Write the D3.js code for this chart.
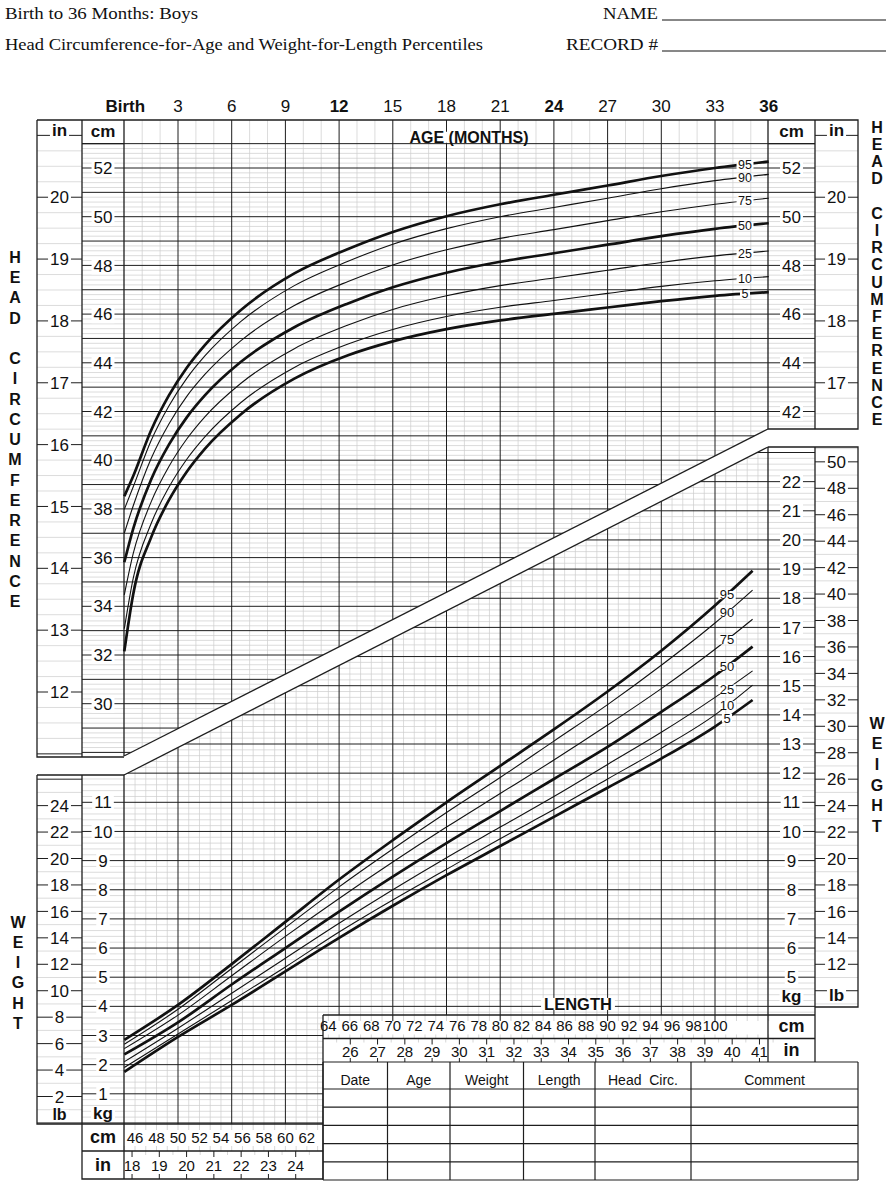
<!DOCTYPE html>
<html><head><meta charset="utf-8">
<script src="https://cdn.jsdelivr.net/npm/d3@7/dist/d3.min.js"></script>
<style>
html,body{margin:0;padding:0;background:#fff;}
svg{display:block;}
text{fill:#111;}
</style></head>
<body><svg id="chart" width="896" height="1186" font-family="'Liberation Sans',Arial,Helvetica,sans-serif"></svg>
<script>
// ---------------- DATA ----------------
const percentiles = [5,10,25,50,75,90,95];
const thickPct = [5,50,95];

// Head circumference-for-age (cm)
const hcAgeMonths = [0,0.5,1.5,2.5,3.5,4.5,6.5,9.5,12.5,15,18,21,24,27,30,33,36];
const hcP5  = [32.15,34.51,36.83,38.37,39.54,40.47,41.88,43.35,44.31,44.88,45.38,45.74,46.01,46.27,46.53,46.75,46.90];
const hcP10 = [33.08,35.16,37.40,38.90,40.05,40.96,42.36,43.81,44.77,45.37,45.90,46.28,46.56,46.85,47.14,47.37,47.54];
const hcP25 = [34.47,36.17,38.29,39.75,40.88,41.78,43.15,44.58,45.55,46.19,46.75,47.17,47.48,47.80,48.12,48.39,48.59];
const hcP50 = [35.81,37.19,39.21,40.65,41.77,42.66,44.03,45.46,46.44,47.10,47.70,48.15,48.50,48.85,49.20,49.50,49.73];
const hcP75 = [37.00,38.13,40.07,41.50,42.63,43.52,44.90,46.35,47.34,48.02,48.64,49.11,49.47,49.84,50.20,50.51,50.76];
const hcP90 = [37.98,38.91,40.81,42.24,43.37,44.28,45.69,47.17,48.17,48.87,49.51,50.00,50.38,50.76,51.15,51.48,51.74];
const hcP95 = [38.52,39.35,41.23,42.67,43.81,44.73,46.16,47.67,48.67,49.37,50.02,50.51,50.90,51.28,51.67,52.00,52.26];

// Weight-for-length (kg)
const wflLengthCm = [45,50,55,60,65,70,75,80,85,90,95,100,103.5];
const wflP5  = [1.75,2.95,4.05,5.20,6.35,7.45,8.50,9.50,10.50,11.50,12.50,13.60,14.51];
const wflP10 = [1.90,3.05,4.20,5.35,6.55,7.65,8.70,9.75,10.75,11.80,12.85,14.00,15.02];
const wflP25 = [2.10,3.25,4.45,5.65,6.85,8.00,9.10,10.15,11.20,12.30,13.40,14.60,15.51];
const wflP50 = [2.35,3.45,4.75,6.00,7.25,8.45,9.60,10.70,11.80,12.90,14.10,15.35,16.34];
const wflP75 = [2.55,3.70,5.05,6.40,7.70,8.95,10.15,11.30,12.45,13.65,14.90,16.25,17.28];
const wflP90 = [2.70,3.90,5.30,6.70,8.10,9.40,10.65,11.85,13.10,14.35,15.70,17.15,18.28];
const wflP95 = [2.85,4.05,5.45,6.90,8.35,9.70,11.00,12.25,13.50,14.80,16.20,17.75,18.94];

// Tick labels
const ageTickMonths = [0,3,6,9,12,15,18,21,24,27,30,33,36];
const ageTickLabels = ["Birth","3","6","9","12","15","18","21","24","27","30","33","36"];
const ageBoldLabels = ["Birth","12","24","36"];
const headCmLeft  = [52,50,48,46,44,42,40,38,36,34,32,30];
const headCmRight = [52,50,48,46,44,42];
const headInLeft  = [20,19,18,17,16,15,14,13,12];
const headInRight = [20,19,18,17];
const wtKgLeft  = [11,10,9,8,7,6,5,4,3,2,1];
const wtKgRight = [22,21,20,19,18,17,16,15,14,13,12,11,10,9,8,7,6,5];
const wtLbLeft  = [24,22,20,18,16,14,12,10,8,6,4,2];
const wtLbRight = [50,48,46,44,42,40,38,36,34,32,30,28,26,24,22,20,18,16,14,12];
const lenCmBottom = [46,48,50,52,54,56,58,60,62];
const lenInBottom = [18,19,20,21,22,23,24];
const lenCmTop = [64,66,68,70,72,74,76,78,80,82,84,86,88,90,92,94,96,98,100];
const lenInTop = [26,27,28,29,30,31,32,33,34,35,36,37,38,39,40,41];
const tableHeaders = ["Date","Age","Weight","Length","Head  Circ.","Comment"];
const sideHead = "HEAD CIRCUMFERENCE";
const sideWeight = "WEIGHT";

// ---------------- LAYOUT ----------------
const svg = d3.select('#chart');
const xAge = d3.scaleLinear().domain([0,36]).range([124.3,768.7]);
const xLen = d3.scaleLinear().domain([45,105]).range([124.3,768.7]);
const yHC  = d3.scaleLinear().domain([52,30]).range([168,703.7]);
const yWt  = d3.scaleLinear().domain([11,1]).range([802.3,1093.8]);
const IN = 2.54, LB = 0.45359237;

const C = {inL:37, cmL:82, pL:124, pR:768, cmR:815, inR:858,
  top:120, hdr:143.65, headBotL:757, headBotR:429,
  wTopL:775, wTopR:447, lbBotR:1007, lenTop:1015, lenMid:1038.5, tabTop:1062, tabL:323,
  wBotL:1124, lenMidB:1151, botB:1179, tabB:1180};
const band = {topL:756, topR:429, botL:775, botR:447};
const tableCols = [323,387.5,450,523.5,595,691,858];
const tableRows = [1062,1089,1107.2,1125.4,1143.6,1161.8,1180];

const DARK = '#1e1e1e', LIGHT = '#cdcdcd';

const defs = svg.append('defs');
defs.append('clipPath').attr('id','clipHead').append('path')
  .attr('d',`M${C.pL},${C.top}H${C.pR}V${band.topR}L${C.pL},${band.topL}Z`);
defs.append('clipPath').attr('id','clipWt').append('path')
  .attr('d',`M${C.pL},${band.botL}L${C.pR},${band.botR}V${C.lenTop}H${C.tabL}V${C.wBotL}H${C.pL}Z`);

function hline(g,x1,x2,y,color,w){ g.append('line').attr('x1',x1).attr('x2',x2).attr('y1',y).attr('y2',y).attr('stroke',color).attr('stroke-width',w); }
function vline(g,x,y1,y2,color,w){ g.append('line').attr('x1',x).attr('x2',x).attr('y1',y1).attr('y2',y2).attr('stroke',color).attr('stroke-width',w); }
function ko(g,x,y,txt,o={}){
  const size=o.size||17, weight=o.weight||'normal', anchor=o.anchor||'middle';
  const pad=o.pad==null?2:o.pad, padY=o.padY==null?1:o.padY;
  const t=g.append('text').attr('x',x).attr('y',y).attr('text-anchor',anchor).attr('dy','0.36em')
    .attr('font-size',size).attr('font-weight',weight).text(txt);
  if(o.ko!==false){
    const b=t.node().getBBox();
    g.insert('rect',()=>t.node()).attr('x',b.x-pad).attr('y',b.y+padY)
      .attr('width',b.width+2*pad).attr('height',b.height-2*padY).attr('fill','#fff');
  }
  return t;
}

// ---------------- GRID: head ----------------
const gHead = svg.append('g').attr('clip-path','url(#clipHead)');
d3.range(138,266).forEach(i=>{ if(i%5) hline(gHead,C.pL,C.pR,yHC(i/5),LIGHT,0.7); });
d3.range(1,36).forEach(m=>{ if(m%3) vline(gHead,xAge(m),C.top,800,LIGHT,0.7); });
d3.range(28,54).forEach(v=>hline(gHead,C.pL,C.pR,yHC(v),DARK,1));
d3.range(3,36,3).forEach(m=>vline(gHead,xAge(m),C.top,800,DARK,1));

// ---------------- GRID: weight ----------------
const gWt = svg.append('g').attr('clip-path','url(#clipWt)');
d3.range(0,120).forEach(i=>{ if(i%5) hline(gWt,C.pL,C.pR,yWt(i/5),LIGHT,0.7); });
d3.range(46,105).forEach(l=>{ if(l%5) vline(gWt,xLen(l),400,1130,LIGHT,0.7); });
d3.range(0,24).forEach(k=>hline(gWt,C.pL,C.pR,yWt(k),DARK,1));
d3.range(50,105,5).forEach(l=>vline(gWt,xLen(l),400,1130,DARK,1));

// ---------------- COLUMNS ----------------
function column(x1,x2,y1,y2,lightYs,darkYs){
  const g=svg.append('g');
  lightYs.filter(y=>y>y1+0.8&&y<y2-0.8).forEach(y=>hline(g,x1,x2,y,LIGHT,0.7));
  darkYs.filter(y=>y>y1-0.1&&y<y2+0.1).forEach(y=>hline(g,x1,x2,y,DARK,1));
  return g;
}
const hcLight = d3.range(138,266).filter(i=>i%5).map(i=>yHC(i/5));
const hcDark = d3.range(28,54).map(v=>yHC(v));
let g;
g = column(C.cmL,C.pL,C.hdr,C.headBotL,hcLight,hcDark);
headCmLeft.forEach(v=>ko(g,(C.cmL+C.pL)/2,yHC(v),String(v)));
g = column(C.pR,C.cmR,C.hdr,C.headBotR,hcLight,hcDark);
headCmRight.forEach(v=>ko(g,(C.pR+C.cmR)/2,yHC(v),String(v)));
const hiLight = d3.range(44,88).filter(i=>i%4).map(i=>yHC(i/4*IN));
const hiDark = d3.range(11,22).map(v=>yHC(v*IN));
g = column(C.inL,C.cmL,C.top,C.headBotL,hiLight,hiDark);
headInLeft.forEach(v=>ko(g,(C.inL+C.cmL)/2,yHC(v*IN),String(v)));
ko(g,(C.inL+C.cmL)/2,130,'in',{weight:'bold',size:17,padY:3});
g = column(C.cmR,C.inR,C.top,C.headBotR,hiLight,hiDark);
headInRight.forEach(v=>ko(g,(C.cmR+C.inR)/2,yHC(v*IN),String(v)));
ko(g,(C.cmR+C.inR)/2,130,'in',{weight:'bold',size:17,padY:3});
ko(svg,(C.cmL+C.pL)/2,131,'cm',{weight:'bold',size:17,ko:false});
ko(svg,(C.pR+C.cmR)/2,131,'cm',{weight:'bold',size:17,ko:false});

const wkLight = d3.range(0,120).filter(i=>i%5).map(i=>yWt(i/5));
const wkDark = d3.range(0,24).map(k=>yWt(k));
g = column(C.cmL,C.pL,C.wTopL,C.wBotL,wkLight,wkDark);
wtKgLeft.forEach(v=>ko(g,(C.cmL+C.pL)/2,yWt(v),String(v)));
ko(g,(C.cmL+C.pL)/2,1113,'kg',{weight:'bold',size:17,padY:3});
g = column(C.pR,C.cmR,C.wTopR,C.lenTop,wkLight,wkDark);
wtKgRight.forEach(v=>ko(g,(C.pR+C.cmR)/2,yWt(v),String(v)));
ko(g,(C.pR+C.cmR)/2,996,'kg',{weight:'bold',size:17,padY:3});
const wlLight = d3.range(0,53).filter(i=>i%2).map(i=>yWt(i*LB));
const wlDark = d3.range(0,53,2).map(i=>yWt(i*LB));
g = column(C.inL,C.cmL,C.wTopL,C.wBotL,wlLight,wlDark);
wtLbLeft.forEach(v=>ko(g,(C.inL+C.cmL)/2,yWt(v*LB),String(v),{padY:3}));
ko(g,(C.inL+C.cmL)/2,1114,'lb',{weight:'bold',size:16,padY:4});
g = column(C.cmR,C.inR,C.wTopR,C.lbBotR,wlLight,wlDark);
wtLbRight.forEach(v=>ko(g,(C.cmR+C.inR)/2,yWt(v*LB),String(v)));
ko(g,(C.cmR+C.inR)/2,995,'lb',{weight:'bold',size:17,padY:3});

// ---------------- LENGTH SCALES ----------------
const gLen = svg.append('g');
d3.range(45,64).forEach(l=>vline(gLen,xLen(l),C.wBotL,C.wBotL+6,LIGHT,0.8));
d3.range(45,64).forEach(l=>vline(gLen,xLen(l),C.lenMidB-5,C.lenMidB,LIGHT,0.8));
lenCmBottom.forEach(v=>gLen.append('text').attr('x',xLen(v)).attr('y',C.wBotL+14).attr('dy','0.36em')
  .attr('text-anchor','middle').attr('font-size',15).text(v));
d3.range(18,25).forEach(v=>{ vline(gLen,xLen(v*IN),C.lenMidB,C.lenMidB+6,DARK,1); vline(gLen,xLen(v*IN),C.botB-5,C.botB,DARK,1); });
d3.range(18,25).forEach(v=>vline(gLen,xLen((v+0.5)*IN),C.lenMidB,C.lenMidB+4,LIGHT,0.8));
lenInBottom.forEach(v=>gLen.append('text').attr('x',xLen(v*IN)).attr('y',C.lenMidB+15).attr('dy','0.36em')
  .attr('text-anchor','middle').attr('font-size',15).text(v));
d3.range(64,106).forEach(l=>vline(gLen,xLen(l),C.lenTop,C.lenTop+6,LIGHT,0.8));
[70,80,90,100].forEach(l=>vline(gLen,xLen(l),C.lenTop,C.lenTop+6,DARK,1));
d3.range(64,106).forEach(l=>vline(gLen,xLen(l),C.lenMid-4,C.lenMid,LIGHT,0.8));
lenCmTop.forEach(v=>gLen.append('text').attr('x',xLen(v)).attr('y',C.lenTop+11).attr('dy','0.36em')
  .attr('text-anchor','middle').attr('font-size',15).text(v));
d3.range(26,42).forEach(v=>{ vline(gLen,xLen(v*IN),C.lenMid,C.lenMid+6,DARK,1); vline(gLen,xLen(v*IN),C.tabTop-4,C.tabTop,DARK,1); });
d3.range(25,42).forEach(v=>vline(gLen,xLen((v+0.5)*IN),C.lenMid,C.lenMid+4,LIGHT,0.8));
lenInTop.forEach(v=>gLen.append('text').attr('x',xLen(v*IN)).attr('y',C.lenMid+13).attr('dy','0.36em')
  .attr('text-anchor','middle').attr('font-size',15).text(v));
ko(svg,(C.cmL+C.pL)/2,1137,'cm',{weight:'bold',size:18,ko:false});
ko(svg,(C.cmL+C.pL)/2,1165,'in',{weight:'bold',size:18,ko:false});
ko(svg,(C.pR+C.cmR)/2,1026,'cm',{weight:'bold',size:18,ko:false});
ko(svg,(C.pR+C.cmR)/2,1050,'in',{weight:'bold',size:18,ko:false});

// ---------------- TABLE ----------------
const gTab = svg.append('g');
tableRows.forEach(y=>hline(gTab,tableCols[0],tableCols[tableCols.length-1],y,DARK,1.2));
tableCols.forEach(x=>vline(gTab,x,tableRows[0],tableRows[tableRows.length-1],DARK,1.2));
tableHeaders.forEach((h,i)=>gTab.append('text').attr('x',(tableCols[i]+tableCols[i+1])/2).attr('y',1080)
  .attr('dy','0.36em').attr('text-anchor','middle').attr('font-size',14).style('white-space','pre').text(h));

// ---------------- FRAMES ----------------
const gF = svg.append('g').attr('fill','none').attr('stroke',DARK).attr('stroke-width',1.3);
const seg=(d)=>gF.append('path').attr('d',d);
seg(`M${C.inL},${C.top}H${C.inR}V${C.headBotR}H${C.pR}`);
seg(`M${C.inL},${C.top}V${C.headBotL}H${C.pL}`);
seg(`M${C.cmL},${C.top}V${C.headBotL}`);
seg(`M${C.pL},${C.top}V${band.topL}`);
seg(`M${C.pR},${C.top}V${C.headBotR}`);
seg(`M${C.cmR},${C.top}V${C.headBotR}`);
seg(`M${C.cmL},${C.hdr}H${C.pL}M${C.pR},${C.hdr}H${C.cmR}`);
seg(`M${C.pL},${band.topL}L${C.pR},${band.topR}`);
seg(`M${C.pL},${band.botL}L${C.pR},${band.botR}`);
seg(`M${C.inL},${C.wTopL}H${C.pL}V${C.botB}`);
seg(`M${C.inL},${C.wTopL}V${C.wBotL}H${C.tabL}`);
seg(`M${C.cmL},${C.wTopL}V${C.botB}H${C.tabL}V${C.lenTop}`);
seg(`M${C.cmL},${C.lenMidB}H${C.tabL}`);
seg(`M${C.pR},${C.wTopR}H${C.inR}V${C.lbBotR}H${C.cmR}`);
seg(`M${C.pR},${C.wTopR}V${C.tabTop}`);
seg(`M${C.cmR},${C.wTopR}V${C.tabTop}`);
seg(`M${C.tabL},${C.lenTop}H${C.cmR}M${C.tabL},${C.lenMid}H${C.cmR}`);

// ---------------- CURVES ----------------
const hcSeries = [hcP5,hcP10,hcP25,hcP50,hcP75,hcP90,hcP95];
const wflSeries = [wflP5,wflP10,wflP25,wflP50,wflP75,wflP90,wflP95];
const lineHC = d3.line().x(d=>xAge(d[0])).y(d=>yHC(d[1])).curve(d3.curveMonotoneX);
const lineWt = d3.line().x(d=>xLen(d[0])).y(d=>yWt(d[1])).curve(d3.curveMonotoneX);
const gC = svg.append('g').attr('fill','none').attr('stroke','#111').attr('stroke-linecap','butt');
hcSeries.forEach((s,i)=>{
  const pts = hcAgeMonths.map((a,j)=>[a,s[j]]);
  gC.append('path').attr('d',lineHC(pts)).attr('stroke-width',thickPct.includes(percentiles[i])?2.7:1.1);
});
wflSeries.forEach((s,i)=>{
  const pts = wflLengthCm.map((a,j)=>[a,s[j]]);
  gC.append('path').attr('d',lineWt(pts)).attr('stroke-width',thickPct.includes(percentiles[i])?2.7:1.1);
});
const gL = svg.append('g');
const hcLabAge = xAge.invert(745);
hcSeries.forEach((s,i)=>{
  const v = d3.scaleLinear().domain(hcAgeMonths).range(s)(hcLabAge);
  ko(gL,745,yHC(v),String(percentiles[i]),{size:12.5,pad:1.5,padY:3});
});
const wtLabLen = xLen.invert(727);
wflSeries.forEach((s,i)=>{
  const v = d3.scaleLinear().domain(wflLengthCm).range(s)(wtLabLen);
  ko(gL,727,yWt(v),String(percentiles[i]),{size:13,pad:1.5,padY:3});
});

// ---------------- AXIS LABELS & TITLES ----------------
ageTickMonths.forEach((m,i)=>{
  svg.append('text').attr('x',xAge(m)+(i===0?1:0)).attr('y',112).attr('text-anchor','middle')
    .attr('font-size',17).attr('font-weight',ageBoldLabels.includes(ageTickLabels[i])?'bold':'normal')
    .text(ageTickLabels[i]);
});
ko(svg,469,137,'AGE (MONTHS)',{weight:'bold',size:16,pad:3,padY:3});
ko(svg,578,1004,'LENGTH',{weight:'bold',size:16.5,pad:3,padY:3});

function sideText(str,x,y0,step){
  let k=0;
  for(const ch of str){ if(ch!==' ') svg.append('text').attr('x',x).attr('y',y0+k*step).attr('dy','0.36em')
      .attr('text-anchor','middle').attr('font-size',16).attr('font-weight','bold').text(ch); k++; }
}
sideText(sideHead,15,257,20.25);
sideText(sideHead,877,127,17.2);
sideText(sideWeight,18,922,20.2);
sideText(sideWeight,877,723,20.6);

const serif="'Liberation Serif','Times New Roman',serif";
function title(x,y,len,txt){
  svg.append('text').attr('x',x).attr('y',y).attr('font-size',16.5).style('font-family',serif)
    .attr('textLength',len).attr('lengthAdjust','spacingAndGlyphs').text(txt);
}
title(5,19,193,'Birth to 36 Months: Boys');
title(5,50,478,'Head Circumference-for-Age and Weight-for-Length Percentiles');
title(603,19,55,'NAME');
title(566,50,92,'RECORD #');
hline(svg,662,886,20,'#111',1);
hline(svg,662,886,51,'#111',1);
</script>
</body></html>
